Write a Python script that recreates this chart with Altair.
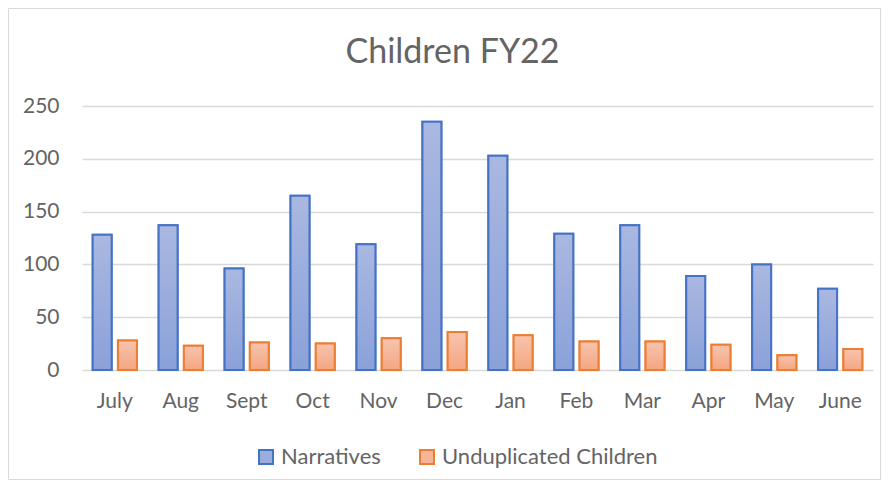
import altair as alt
import pandas as pd

months = ["July", "Aug", "Sept", "Oct", "Nov", "Dec", "Jan", "Feb", "Mar", "Apr", "May", "June"]
narratives = [128, 137, 96, 165, 119, 235, 203, 129, 137, 89, 100, 77]
unduplicated = [28, 23, 26, 25, 30, 36, 33, 27, 27, 24, 14, 20]
series = ["Narratives", "Unduplicated Children"]
y_ticks = [0, 50, 100, 150, 200, 250]

rows = []
for m, n, u in zip(months, narratives, unduplicated):
    rows.append({"Month": m, "Series": series[0], "Value": n})
    rows.append({"Month": m, "Series": series[1], "Value": u})
df = pd.DataFrame(rows)

FONT = "Lato"
TXT = "#646464"
W, H = 791, 264
PAD = {"left": 74, "top": 98, "right": 8, "bottom": 110}

blue_grad = alt.LinearGradient(
    gradient="linear", x1=0, x2=0, y1=0, y2=1,
    stops=[alt.GradientStop(color="#AAB8E1", offset=0), alt.GradientStop(color="#8AA1D9", offset=1)],
)
orange_grad = alt.LinearGradient(
    gradient="linear", x1=0, x2=0, y1=0, y2=1,
    stops=[alt.GradientStop(color="#F7C4AE", offset=0), alt.GradientStop(color="#F4A681", offset=1)],
)

legend = alt.Legend(
    title=None, orient="none", direction="horizontal", legendX=173, legendY=340,
    symbolType="square", symbolSize=196, symbolStrokeWidth=2, labelFontSize=22,
    labelFont=FONT, labelColor=TXT, labelOffset=4, columnPadding=35, labelLimit=400,
)

base = alt.Chart(df).encode(
    x=alt.X("Month:N", sort=months, title=None,
            scale=alt.Scale(paddingInner=0.33, paddingOuter=0.162),
            axis=alt.Axis(labelAngle=0, ticks=False, domain=False, labelFontSize=21,
                          labelFont=FONT, labelColor=TXT, labelPadding=20, grid=False)),
    xOffset=alt.XOffset("Series:N", sort=series, scale=alt.Scale(paddingInner=0.25, paddingOuter=0)),
    y=alt.Y("Value:Q", title=None, scale=alt.Scale(domain=[0, 250], nice=False),
            axis=alt.Axis(values=y_ticks, ticks=False, domain=False, labelFontSize=21,
                          labelFont=FONT, labelColor=TXT, labelPadding=23,
                          gridColor="#D9D9D9", gridWidth=1.5)),
)

legend_layer = base.mark_bar(strokeWidth=2).encode(
    fill=alt.Fill("Series:N", sort=series,
                  scale=alt.Scale(domain=series, range=["#9AADDD", "#F5B598"]), legend=legend),
    stroke=alt.Stroke("Series:N", sort=series,
                      scale=alt.Scale(domain=series, range=["#4472C4", "#ED7D31"]), legend=legend),
)

blue_layer = base.transform_filter(alt.datum.Series == series[0]).mark_bar(
    fill=blue_grad, stroke="#4472C4", strokeWidth=2)
orange_layer = base.transform_filter(alt.datum.Series == series[1]).mark_bar(
    fill=orange_grad, stroke="#ED7D31", strokeWidth=2)

frame = alt.Chart(pd.DataFrame({"a": [0]})).mark_rect(
    fill=None, stroke="#D9D9D9", strokeWidth=1
).encode(
    x=alt.value(-PAD["left"] + 0.5), x2=alt.value(W + PAD["right"] - 0.5),
    y=alt.value(-PAD["top"] + 0.5), y2=alt.value(H + PAD["bottom"] - 0.5),
)

chart = alt.layer(frame, legend_layer, blue_layer, orange_layer).properties(
    width=W, height=H,
    autosize=alt.AutoSizeParams(type="none"),
    padding=PAD,
    title=alt.TitleParams("Children FY22", fontSize=34, font=FONT, color=TXT,
                          fontWeight="normal", anchor="middle", offset=-62, dx=-25),
).configure_view(stroke=None)

chart.save("out.html", embed_options={"renderer": "svg", "actions": False})
